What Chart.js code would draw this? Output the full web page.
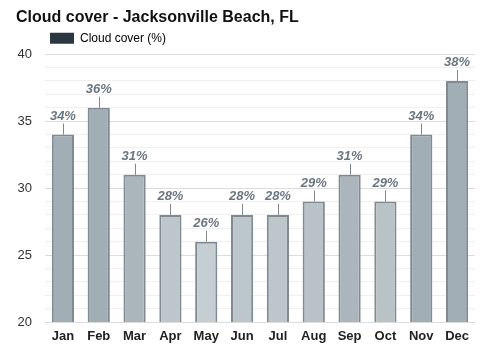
<!DOCTYPE html>
<html>
<head>
<meta charset="utf-8">
<script src="https://cdn.jsdelivr.net/npm/chart.js@4"></script>
<style>
  html, body { margin: 0; padding: 0; background: #fff; }
  #wrap { width: 500px; height: 350px; }
</style>
</head>
<body>
<div id="wrap"><canvas id="chart" width="500" height="350"></canvas></div>
<script>
const months = ['Jan', 'Feb', 'Mar', 'Apr', 'May', 'Jun', 'Jul', 'Aug', 'Sep', 'Oct', 'Nov', 'Dec'];
const cloudCover = [34, 36, 31, 28, 26, 28, 28, 29, 31, 29, 34, 38];
const yMajorTicks = [20, 25, 30, 35, 40];

// cloudier months get a darker bar
function barColor(v) {
    if (v >= 34) return '#a2aeb5';
    if (v >= 31) return '#aab5bc';
    if (v >= 29) return '#b8c2c7';
    if (v >= 28) return '#bdc7cb';
    return '#c5ced2';
}

const valueLabels = {
    id: 'valueLabels',
    afterDatasetsDraw(chart) {
        const ctx = chart.ctx;
        const meta = chart.getDatasetMeta(0);
        ctx.save();
        ctx.font = 'italic bold 13px "Liberation Sans", Arial, sans-serif';
        ctx.textAlign = 'center';
        ctx.textBaseline = 'bottom';
        meta.data.forEach((bar, i) => {
            ctx.strokeStyle = '#7d8890';
            ctx.lineWidth = 1;
            ctx.beginPath();
            ctx.moveTo(Math.round(bar.x) + 0.5, bar.y);
            ctx.lineTo(Math.round(bar.x) + 0.5, bar.y - 11);
            ctx.stroke();
            ctx.fillStyle = '#6b7680';
            ctx.fillText(cloudCover[i] + '%', bar.x, bar.y - 12);
        });
        ctx.restore();
    }
};

new Chart(document.getElementById('chart').getContext('2d'), {
    type: 'bar',
    data: {
        labels: months,
        datasets: [{
            label: 'Cloud cover (%)',
            data: cloudCover,
            backgroundColor: cloudCover.map(barColor),
            borderColor: '#7f8a92',
            borderWidth: 2,
            borderSkipped: 'bottom',
            barPercentage: 0.62,
            categoryPercentage: 1
        }]
    },
    options: {
        responsive: false,
        animation: false,
        layout: { padding: { left: 16, right: 25, top: 5, bottom: 2 } },
        plugins: {
            title: {
                display: true,
                text: 'Cloud cover - Jacksonville Beach, FL',
                align: 'start',
                color: '#111',
                font: { family: '"Liberation Sans", Arial, sans-serif', size: 16, weight: 'bold' },
                padding: { top: 3, bottom: 0 }
            },
            legend: {
                display: true,
                align: 'start',
                fullSize: false,
                labels: {
                    boxWidth: 24,
                    boxHeight: 11,
                    padding: 5,
                    color: '#222',
                    font: { family: '"Liberation Sans", Arial, sans-serif', size: 12 },
                    generateLabels: () => [{
                        text: 'Cloud cover (%)',
                        fillStyle: '#2b3740',
                        strokeStyle: '#2b3740',
                        lineWidth: 0
                    }]
                }
            },
            tooltip: { enabled: false }
        },
        scales: {
            x: {
                afterFit: (scale) => { scale.height = 26; },
                grid: { display: false, drawTicks: false },
                border: { display: false },
                ticks: {
                    color: '#222',
                    padding: 7,
                    autoSkip: false,
                    maxRotation: 0,
                    font: { family: '"Liberation Sans", Arial, sans-serif', size: 13, weight: 'bold' }
                }
            },
            y: {
                min: 20,
                max: 40,
                afterFit: (scale) => { scale.width = 29; },
                afterBuildTicks: (scale) => {
                    const t = [];
                    for (let v = 20; v <= 40; v++) t.push({ value: v });
                    scale.ticks = t;
                },
                border: { display: false },
                grid: {
                    drawTicks: false,
                    color: (c) => yMajorTicks.includes(c.tick.value) ? '#dcdcdc' : '#efefef',
                    lineWidth: 1
                },
                ticks: {
                    color: '#333',
                    padding: 13,
                    autoSkip: false,
                    font: { family: '"Liberation Sans", Arial, sans-serif', size: 13 },
                    callback: (v) => yMajorTicks.includes(v) ? v : ''
                }
            }
        }
    },
    plugins: [valueLabels]
});
</script>
</body>
</html>
